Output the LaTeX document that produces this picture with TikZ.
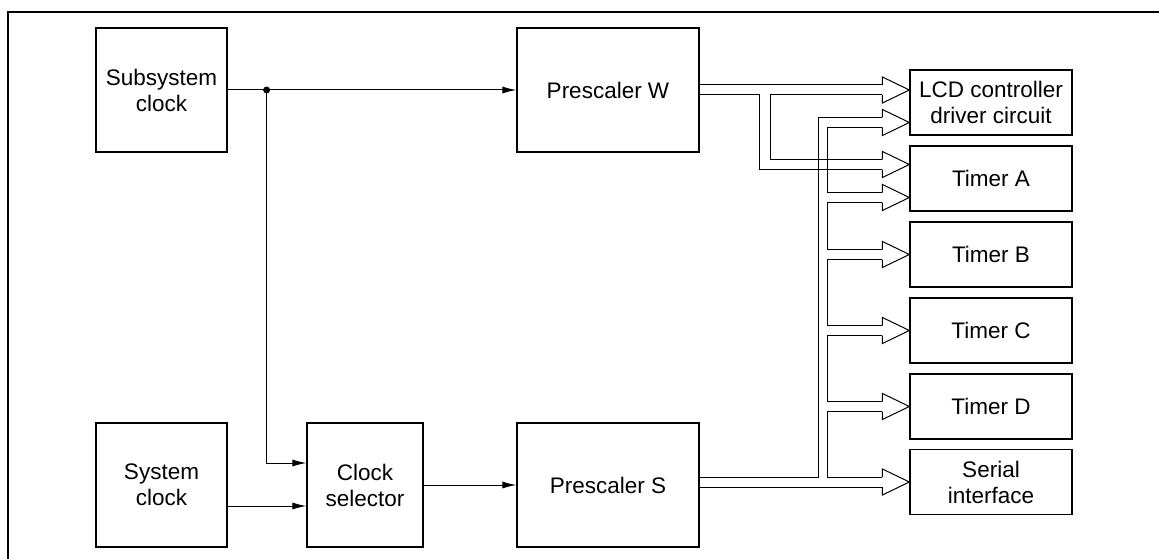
\documentclass[tikz,border=0pt]{standalone}
\usepackage{fontspec}
\setsansfont{Liberation Sans}
\usetikzlibrary{arrows.meta,calc}
\tikzset{
    base/.style={font=\sffamily\fontsize{22.5}{26}\selectfont, align=center},
    block/.style={base, rectangle, draw, line width=1.2pt, inner sep=0pt},
    periph/.style={block, minimum width=162pt, minimum height=65pt},
    sig/.style={-{Latex[length=14pt,width=7pt]}, line width=1pt},
    bus/.style={line width=1pt},
    hollowtip/.pic={\draw[bus] (-27,-5) -- (-27,-13) -- (0,0) -- (-27,13) -- (-27,5);}
}

\begin{document}
\begin{tikzpicture}[x=1pt,y=-1pt]
  \useasboundingbox (0,0) rectangle (1159,559);
  \draw[line width=2.5pt] (8,559) -- (8,12) -- (1159,12);
  % clock sources and prescalers
  \node[block, minimum width=131pt, minimum height=124pt] (sub) at (161.5,90) {Subsystem\\clock};
  \node[block, minimum width=131pt, minimum height=124pt] (sys) at (161.5,485) {System\\clock};
  \node[block, minimum width=116pt, minimum height=124pt] (sel) at (365,485) {Clock\\selector};
  \node[block, minimum width=182pt, minimum height=124pt] (pw) at (608,90) {Prescaler W};
  \node[block, minimum width=182pt, minimum height=124pt] (ps) at (608,485) {Prescaler S};
  % peripherals
  \node[periph] (lcd) at (991,102.5) {LCD controller\\driver circuit};
  \node[periph] (ta) at (991,178.5) {Timer A};
  \node[periph] (tb) at (991,254.5) {Timer B};
  \node[periph] (tc) at (991,330.5) {Timer C};
  \node[periph] (td) at (991,406.5) {Timer D};
  \node[periph] (si) at (991,482) {Serial\\interface};
  % clock signals
  \coordinate (jn) at ($(sub.east)+(39,0)$);
  \draw[sig] (sub.east) -- (pw.west);
  \fill (jn) circle (3.5pt);
  \draw[sig] (jn) |- ($(sel.west)+(0,-22)$);
  \draw[sig] ($(sys.east)+(0,21)$) -- ($(sel.west)+(0,21)$);
  \draw[sig] (sel.east) -- (ps.west);
  % bus inputs
  \coordinate (inL1) at (lcd.west |- pw.east);
  \coordinate (inL2) at ($(lcd.west)+(0,20)$);
  \coordinate (inA1) at ($(ta.west)+(0,-14)$);
  \coordinate (inA2) at ($(ta.west)+(0,19)$);
  \coordinate (inB) at (tb.west);
  \coordinate (inC) at (tc.west);
  \coordinate (inD) at (td.west);
  \coordinate (inS) at (si.west);
  \foreach \t in {inL1,inL2,inA1,inA2,inB,inC,inD,inS}
    \pic at (\t) {hollowtip};
  % prescaler W bus
  \draw[bus] ($(pw.east)+(0,-5)$) -- ($(inL1)+(-27,-5)$);
  \draw[bus] ($(pw.east)+(0,5)$) -- ++(60,0) |- ($(inA1)+(-27,5)$);
  \draw[bus] ($(inL1)+(-27,5)$) -- ($(pw.east)+(71,5)$) |- ($(inA1)+(-27,-5)$);
  % prescaler S bus
  \draw[bus] ($(ps.east |- inS)+(0,5)$) -- ($(inS)+(-27,5)$);
  \draw[bus] ($(ps.east |- inS)+(0,-5)$) -- ++(119,0) |- ($(inL2)+(-27,-5)$);
  \foreach \a/\b in {inL2/inA2,inA2/inB,inB/inC,inC/inD,inD/inS}
    \draw[bus] ($(\a)+(-27,5)$) -- ++(-55,0) |- ($(\b)+(-27,-5)$);
\end{tikzpicture}
\end{document}
